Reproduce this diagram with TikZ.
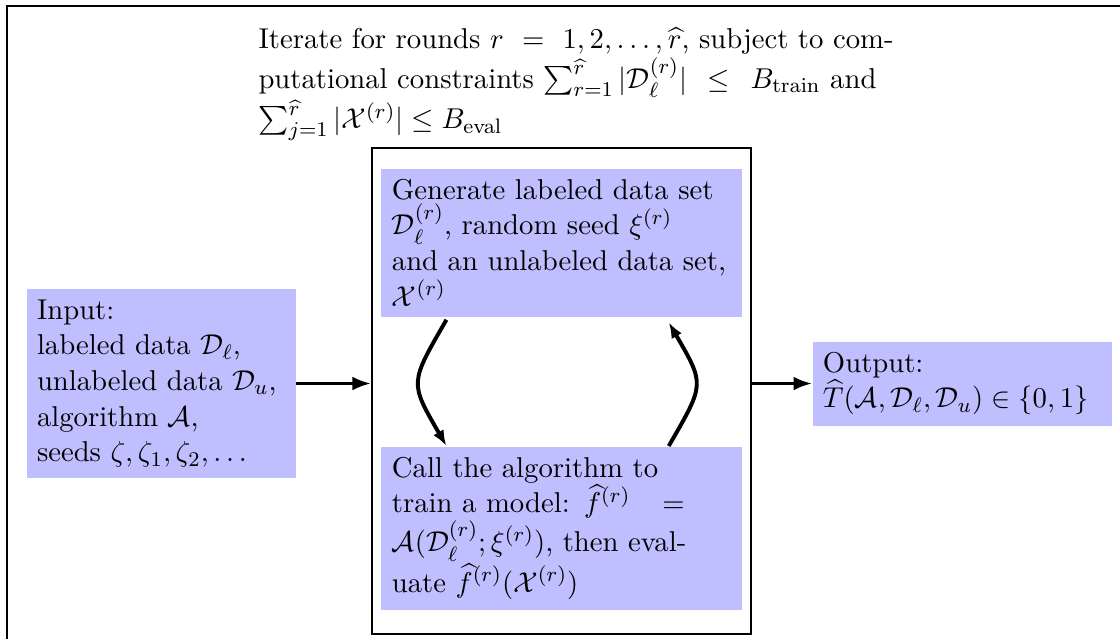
\documentclass[11pt,tikz,border=0pt]{standalone}
\usepackage{amsmath,amssymb}
\usetikzlibrary{positioning,arrows.meta}

\begin{document}
\begin{tikzpicture}[
    stage/.style={fill=blue!25, inner sep=4pt, align=left},
    feed/.style={-{Latex[length=7pt]}, line width=1.1pt},
    roundarrow/.style={-{Latex[length=6pt]}, line width=1.5pt, looseness=1.5}]
  \useasboundingbox (0,0) rectangle (15.025,-8.559);
  % frame round the whole procedure, cut off by the page
  \draw[line width=1pt] (0.094,-9) -- (0.094,-0.08) -- (16,-0.08);
  \node (rounds) [anchor=north west, text width=8.52cm, inner sep=0, align=left] at (3.461,-0.37) {%
    \noindent\makebox[\hsize][s]{Iterate for rounds $r = 1,2,\ldots,\widehat{r}$, subject to com-}\\
    \makebox[8.29cm][s]{putational constraints $\sum_{r=1}^{\widehat{r}}|\mathcal{D}_\ell^{(r)}| \le B_{\mathrm{train}}$ and}\\
    $\sum_{j=1}^{\widehat{r}}|\mathcal{X}^{(r)}| \le B_{\mathrm{eval}}$};
  % the loop that runs once per round
  \node (loop) [draw, line width=0.9pt, minimum width=5.085cm, minimum height=6.52cm] at (7.533,-5.245) {};
  \node (gen) [stage, text width=4.55cm, anchor=north] at (7.533,-2.254) {%
    Generate labeled data set\\
    $\mathcal{D}_\ell^{(r)}$, random seed $\xi^{(r)}$\\
    and an unlabeled data set,\\
    $\mathcal{X}^{(r)}$};
  \node (train) [stage, text width=4.55cm, anchor=north] at (7.533,-5.983) {%
    Call the algorithm to\\
    train a model: $\widehat{f}^{(r)}\;\;\;=$\\
    $\mathcal{A}(\mathcal{D}_\ell^{(r)};\xi^{(r)})$, then eval-\\
    uate $\widehat{f}^{(r)}(\mathcal{X}^{(r)})$};
  \node (input) [stage, text width=3.33cm, anchor=west] at (0.349,-5.145) {%
    Input:\\
    labeled data $\mathcal{D}_\ell$,\\
    unlabeled data $\mathcal{D}_u$,\\
    algorithm $\mathcal{A}$,\\
    seeds $\zeta,\zeta_1,\zeta_2,\ldots$};
  \node (output) [stage, text width=3.74cm, anchor=west] at (10.893,-5.145) {%
    Output:\\
    $\widehat{T}(\mathcal{A},\mathcal{D}_\ell,\mathcal{D}_u)\in\{0,1\}$};
  \draw [feed] (input) -- (input -| loop.west);
  \draw [feed] (loop.east |- output) -- (output);
  \draw [roundarrow] ([xshift=25pt,yshift=-1pt]gen.south west) to [out=-120,in=120] ([xshift=25pt]train.north west);
  \draw [roundarrow] ([xshift=-28pt]train.north east) to [out=60,in=-60] ([xshift=-28pt,yshift=-2pt]gen.south east);
\end{tikzpicture}
\end{document}
